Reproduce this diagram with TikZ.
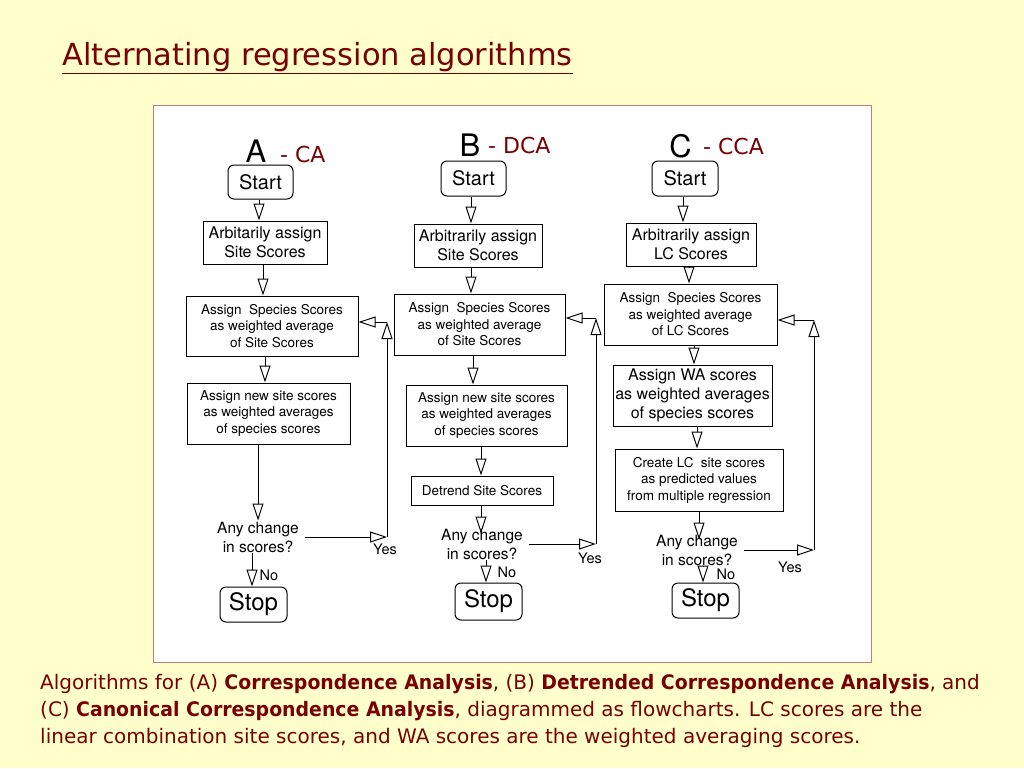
\documentclass[tikz,border=0pt]{standalone}
\usepackage{fontspec}
\setmainfont{DejaVu Sans}[BoldFeatures={FakeStretch=0.945}]
\newfontfamily\chartfont{TeX Gyre Heros}
\usetikzlibrary{arrows.meta}
\definecolor{slidebg}{RGB}{255,255,204}
\definecolor{slidered}{RGB}{120,0,0}
\definecolor{panelrim}{RGB}{196,128,112}
\tikzset{
  box/.style={draw, line width=1pt, align=center, inner sep=0pt, font=\chartfont\fontsize{13.5}{16.5}\selectfont},
  bigbox/.style={box, font=\chartfont\fontsize{16}{19}\selectfont},
  endbox/.style={box, rounded corners=6pt, font=\chartfont\fontsize{20}{24}\selectfont},
  chg/.style={align=center, inner sep=1pt, font=\chartfont\fontsize{15.5}{19}\selectfont},
  tag/.style={inner sep=0pt, font=\chartfont\fontsize{14.5}{17}\selectfont},
  letter/.style={inner sep=0pt, font=\chartfont\fontsize{31}{34}\selectfont},
  method/.style={anchor=west, inner sep=0pt, text=slidered, font=\fontsize{22}{26}\selectfont},
  flow/.style={line width=1pt, -{Triangle[open, length=17pt, width=11pt]}},
}
\begin{document}
\begin{tikzpicture}[x=1pt,y=-1pt]
    \fill[slidebg] (0,0) rectangle (1024,768);
    \node[anchor=base west, inner sep=0pt, text=slidered, font=\fontsize{30.5}{34}\selectfont] (title) at (62,65) {\underline{Alternating regression algorithms}};
    \draw[panelrim, fill=white, line width=1pt] (153,105) rectangle (871,662);
    % A - CA
    \node[letter] (aLetter) at (256,151) {A};
    \node[method] (aName) at (280,154) {- CA};
    \node[endbox, minimum width=65, minimum height=34] (aStart) at (260.5,182) {Start};
    \node[box, bigbox, minimum width=124, minimum height=43] (aArb) at (265,242.5) {Arbitarily assign\\Site Scores};
    \node[box, minimum width=172, minimum height=60] (aSpec) at (272,326) {Assign\ \ Species Scores\\as weighted average\\of Site Scores};
    \node[box, minimum width=163, minimum height=61] (aSite) at (268.5,413.5) {Assign new site scores\\as weighted averages\\of species scores};
    \node[chg] (aChg) at (258,537) {Any change\\in scores?};
    \node[endbox, font=\chartfont\fontsize{24}{28}\selectfont, minimum width=67, minimum height=35] (aStop) at (253.5,604.5) {Stop};
    \node[tag] (aYes) at (385,549) {Yes};
    \node[tag] (aNo) at (269,575) {No};
    \coordinate (aLoop) at (387,322);
    \draw[flow] (aStart.south -| 259,0) -- (aArb.north -| 259,0);
    \draw[flow] (aArb.south -| 263,0) -- (aSpec.north -| 263,0);
    \draw[flow] (aSpec.south -| 265,0) -- (aSite.north -| 265,0);
    \draw[flow] (aSite.south -| aChg.north) -- (aChg.north);
    \draw[flow] (aChg.south -| 252,0) -- (aStop.north -| 252,0);
    \draw[flow] ([xshift=5pt]aChg.east) -- (aChg.east -| aLoop);
    \draw[flow] (aChg.east -| aLoop) -- (aLoop);
    \draw[flow] (aLoop) -- (aLoop -| aSpec.east);
    % B - DCA
    \node[letter] (bLetter) at (470,145.5) {B};
    \node[method] (bName) at (488,145) {- DCA};
    \node[endbox, minimum width=65, minimum height=35] (bStart) at (473.5,178.5) {Start};
    \node[box, bigbox, minimum width=128, minimum height=43] (bArb) at (478,245.5) {Arbitrarily assign\\Site Scores};
    \node[box, minimum width=171, minimum height=61] (bSpec) at (479.5,324.5) {Assign\ \ Species Scores\\as weighted average\\of Site Scores};
    \node[box, minimum width=161, minimum height=61] (bSite) at (486.5,415.5) {Assign new site scores\\as weighted averages\\of species scores};
    \node[box, minimum width=142, minimum height=29] (bDet) at (482,490.5) {Detrend Site Scores};
    \node[chg] (bChg) at (482,544) {Any change\\in scores?};
    \node[endbox, font=\chartfont\fontsize{24}{28}\selectfont, minimum width=67, minimum height=37] (bStop) at (488.5,601.5) {Stop};
    \node[tag] (bYes) at (590,558) {Yes};
    \node[tag] (bNo) at (507,572) {No};
    \coordinate (bLoop) at (596,318);
    \draw[flow] (bStart.south -| 471,0) -- (bArb.north -| 471,0);
    \draw[flow] (bArb.south -| 471,0) -- (bSpec.north -| 471,0);
    \draw[flow] (bSpec.south -| 473,0) -- (bSite.north -| 473,0);
    \draw[flow] (bSite.south -| 481,0) -- (bDet.north -| 481,0);
    \draw[flow] (bDet.south -| 481,0) -- ([yshift=-6pt]bChg.north -| 481,0);
    \draw[flow] (bChg.south -| 486,0) -- (bStop.north -| 486,0);
    \draw[flow] ([xshift=5pt]bChg.east) -- (bChg.east -| bLoop);
    \draw[flow] (bChg.east -| bLoop) -- (bLoop);
    \draw[flow] (bLoop) -- (bLoop -| bSpec.east);
    % C - CCA
    \node[letter] (cLetter) at (680.5,146) {C};
    \node[method] (cName) at (703,146) {- CCA};
    \node[endbox, minimum width=66, minimum height=35] (cStart) at (685,178.5) {Start};
    \node[box, bigbox, minimum width=130, minimum height=43] (cArb) at (691,244.5) {Arbitrarily assign\\LC Scores};
    \node[box, minimum width=173, minimum height=61] (cSpec) at (690.5,314.5) {Assign\ \ Species Scores\\as weighted average\\of LC Scores};
    \node[box, bigbox, minimum width=159, minimum height=61] (cWA) at (692.5,395.5) {Assign WA scores\\as weighted averages\\of species scores};
    \node[box, minimum width=168, minimum height=62] (cLC) at (699,480) {Create LC\ \ site scores\\as predicted values\\from multiple regression};
    \node[chg] (cChg) at (697,550) {Any change\\in scores?};
    \node[endbox, font=\chartfont\fontsize{24}{28}\selectfont, minimum width=67, minimum height=35] (cStop) at (705.5,600.5) {Stop};
    \node[tag] (cYes) at (790,567) {Yes};
    \node[tag] (cNo) at (726,574) {No};
    \coordinate (cLoop) at (814,320);
    \draw[flow] (cStart.south -| 683,0) -- (cArb.north -| 683,0);
    \draw[flow] (cArb.south -| 689,0) -- (cSpec.north -| 689,0);
    \draw[flow] (cSpec.south -| 694,0) -- (cWA.north -| 694,0);
    \draw[flow] (cWA.south -| 697,0) -- (cLC.north -| 697,0);
    \draw[flow] (cLC.south -| 699,0) -- ([yshift=-6pt]cChg.north -| 699,0);
    \draw[flow] (cChg.south -| 703,0) -- (cStop.north -| 703,0);
    \draw[flow] ([xshift=5pt]cChg.east) -- (cChg.east -| cLoop);
    \draw[flow] (cChg.east -| cLoop) -- (cLoop);
    \draw[flow] (cLoop) -- (cLoop -| cSpec.east);
    % caption
    \node[anchor=north west, inner sep=0pt, align=left, text=slidered, font=\fontsize{20}{27}\selectfont] (caption) at (40,674) {Algorithms for (A) \textbf{Correspondence Analysis}, (B) \textbf{Detrended Correspondence Analysis}, and\\(C) \textbf{Canonical Correspondence Analysis}, diagrammed as flowcharts. LC scores are the\\linear combination site scores, and WA scores are the weighted averaging scores.};
\end{tikzpicture}
\end{document}
